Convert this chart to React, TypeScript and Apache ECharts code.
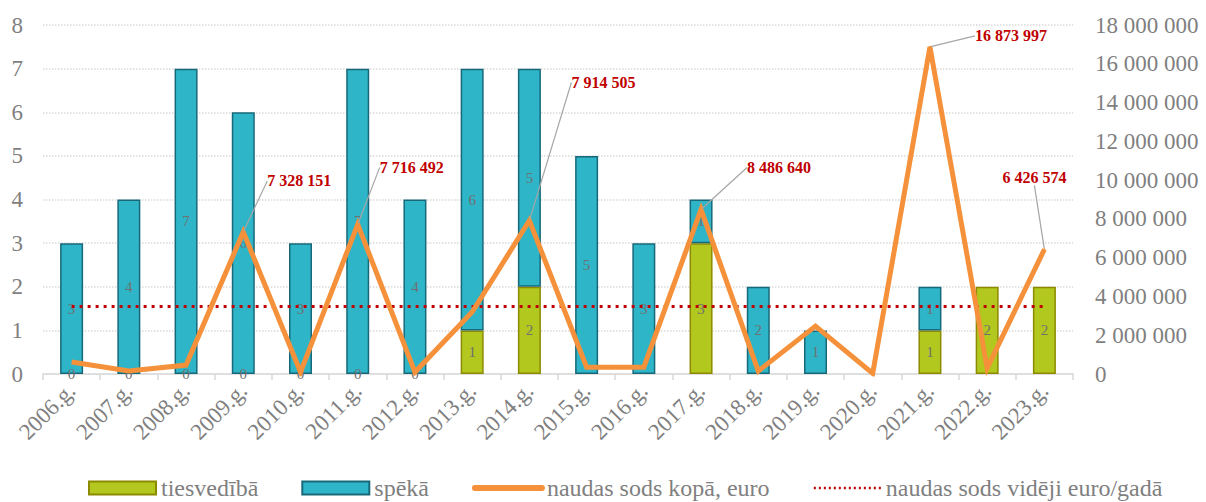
import React, { useEffect, useRef } from "react";
import * as echarts from "echarts";

const years = [
  "2006.g.", "2007.g.", "2008.g.", "2009.g.", "2010.g.", "2011.g.", "2012.g.",
  "2013.g.", "2014.g.", "2015.g.", "2016.g.", "2017.g.", "2018.g.", "2019.g.",
  "2020.g.", "2021.g.", "2022.g.", "2023.g.",
];
const tiesvedibaValues = [0, 0, 0, 0, 0, 0, 0, 1, 2, null, null, 3, null, null, null, 1, 2, 2];
const spekaValues = [3, 4, 7, 6, 3, 7, 4, 6, 5, 5, 3, 1, 2, 1, null, 1, null, null];
const sodsKopaValues = [
  620000, 150000, 460000, 7328151, 100000, 7716492, 100000, 3200000, 7914505,
  350000, 350000, 8486640, 150000, 2470000, 30000, 16873997, 300000, 6426574,
];
const sodsVidejiValues = [
  3480000, 3480000, 3480000, 3480000, 3480000, 3480000, 3480000, 3480000, 3480000,
  3480000, 3480000, 3480000, 3480000, 3480000, 3480000, 3480000, 3480000, 3480000,
];
const labelledIndices = [3, 5, 8, 11, 15, 17];

const seriesNames = {
  ties: "tiesvedībā",
  speka: "spēkā",
  kopa: "naudas sods kopā, euro",
  videji: "naudas sods vidēji euro/gadā",
};

// label offsets relative to the point: [dx, dy, align]
const labelOffsets: Record<number, [number, number, string]> = {
  3: [24, -51, "left"],
  5: [22, -57, "left"],
  8: [42, -138, "left"],
  11: [46, -42, "left"],
  15: [45, -11, "left"],
  17: [-10, -72, "center"],
};

const FONT = "'Liberation Serif', 'Times New Roman', serif";
const GRAY = "#7f7f7f";
const ORANGE = "#f5913a";
const RED = "#c00000";

const fmt = (v: number) =>
  String(Math.round(v)).replace(/\B(?=(\d{3})+(?!\d))/g, " ");

const barData = (vals: (number | null)[]) =>
  vals.map((v) => (v === 0 ? { value: v, itemStyle: { borderWidth: 0 } } : v));

export default function App() {
  const ref = useRef<HTMLDivElement>(null);
  useEffect(() => {
    document.body.style.margin = "0";
    if (!ref.current) return;
    const chart = echarts.init(ref.current, null, { renderer: "svg" });
    const kopaData = sodsKopaValues.map((v, i) =>
      labelledIndices.includes(i)
        ? { value: v, symbol: "circle", symbolSize: 2, label: { show: true } }
        : { value: v }
    );
    const barLabel = {
      show: true,
      position: "inside",
      fontFamily: FONT,
      fontSize: 15,
      color: "#707070",
    };
    chart.setOption({
      animation: false,
      textStyle: { fontFamily: FONT },
      grid: { left: 43, right: 133, top: 25, bottom: 128, containLabel: false },
      legend: {
        top: 471,
        left: 83,
        itemWidth: 67,
        itemHeight: 13,
        itemGap: 43,
        textStyle: { fontFamily: FONT, fontSize: 24, color: GRAY, lineHeight: 24 },
        data: [
          { name: seriesNames.ties, icon: "rect" },
          { name: seriesNames.speka, icon: "rect" },
          {
            name: seriesNames.kopa,
            itemStyle: { opacity: 0 },
            lineStyle: { width: 6, cap: "round", color: ORANGE },
          },
          {
            name: seriesNames.videji,
            itemStyle: { opacity: 0 },
            lineStyle: { width: 2.5, color: RED, type: [2, 3] },
          },
        ],
      },
      xAxis: {
        type: "category",
        data: years,
        axisLine: { lineStyle: { color: "#d9d9d9", width: 1.5 } },
        axisTick: { show: true, length: 6, lineStyle: { color: "#d9d9d9", width: 1.5 } },
        axisLabel: {
          rotate: 45,
          interval: 0,
          margin: 13,
          fontFamily: FONT,
          fontSize: 23,
          color: GRAY,
        },
      },
      yAxis: [
        {
          type: "value",
          min: 0,
          max: 8,
          interval: 1,
          axisLine: { show: false },
          axisTick: { show: false },
          axisLabel: { fontFamily: FONT, fontSize: 23, color: GRAY, margin: 20 },
          splitLine: { lineStyle: { color: "#d9d9d9", type: "dotted", width: 1.5 } },
        },
        {
          type: "value",
          min: 0,
          max: 18000000,
          interval: 2000000,
          position: "right",
          axisLine: { show: false },
          axisTick: { show: false },
          splitLine: { show: false },
          axisLabel: {
            fontFamily: FONT,
            fontSize: 23,
            color: GRAY,
            margin: 22,
            formatter: (v: number) => fmt(v),
          },
        },
      ],
      series: [
        {
          name: seriesNames.ties,
          type: "bar",
          stack: "a",
          barWidth: 23,
          data: barData(tiesvedibaValues),
          itemStyle: { color: "#b2c81e", borderColor: "#8c8a00", borderWidth: 1.5 },
          label: barLabel,
          z: 2,
        },
        {
          name: seriesNames.speka,
          type: "bar",
          stack: "a",
          barWidth: 23,
          data: barData(spekaValues),
          itemStyle: { color: "#2eb5c8", borderColor: "#17697a", borderWidth: 1.5 },
          label: barLabel,
          z: 2,
        },
        {
          name: seriesNames.videji,
          type: "line",
          yAxisIndex: 1,
          data: sodsVidejiValues,
          symbol: "none",
          lineStyle: { color: RED, width: 3, type: [3, 5] },
          itemStyle: { color: RED },
          z: 3,
        },
        {
          name: seriesNames.kopa,
          type: "line",
          yAxisIndex: 1,
          data: kopaData,
          symbol: "none",
          showSymbol: true,
          lineStyle: { color: ORANGE, width: 5, join: "miter" },
          itemStyle: { color: ORANGE },
          label: {
            show: false,
            fontFamily: FONT,
            fontSize: 16,
            fontWeight: "bold",
            color: RED,
            formatter: (p: any) => fmt(p.value),
          },
          labelLine: { show: true, lineStyle: { color: "#a6a6a6", width: 1.2 } },
          labelLayout: (params: any) => {
            const off = labelOffsets[params.dataIndex];
            if (!off) return {};
            const cx = params.rect.x + params.rect.width / 2;
            const cy = params.rect.y + params.rect.height / 2;
            return {
              x: cx + off[0],
              y: cy + off[1],
              align: off[2],
              verticalAlign: "middle",
            };
          },
          z: 4,
        },
      ],
    });
    return () => chart.dispose();
  }, []);
  return <div ref={ref} style={{ width: 1206, height: 502 }} />;
}
